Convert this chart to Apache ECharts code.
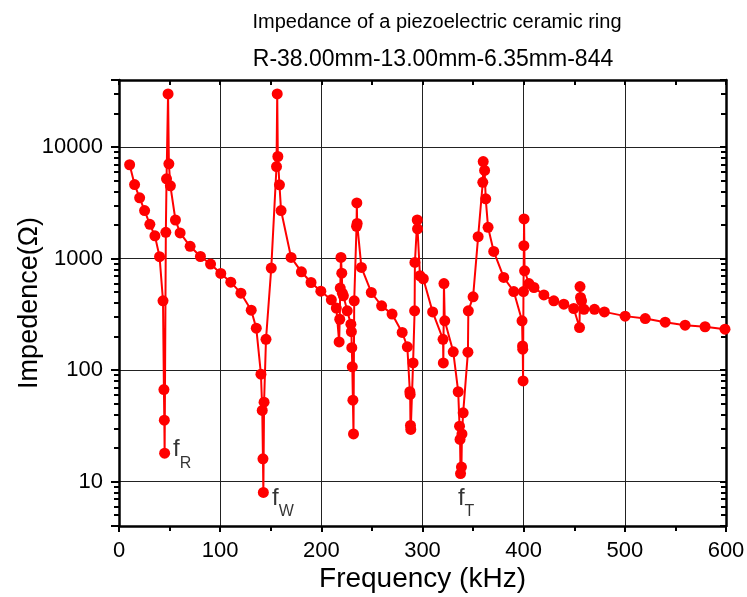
<!DOCTYPE html>
<html><head><meta charset="utf-8">
<script src="https://cdn.jsdelivr.net/npm/echarts@6/dist/echarts.min.js"></script>
<style>html,body{margin:0;padding:0;background:#fff}#c{width:747px;height:597px}</style>
</head><body><div id="c"></div>
<script>
// Measured sweep: frequency (kHz) and impedance magnitude (Ohm)
const freq = [10.5,15.4,20.4,25.3,30.5,35.5,40.1,43.5,44.4,44.8,45.1,46.3,47.0,48.5,49.3,50.8,55.8,60.4,70.3,80.5,
  90.5,100.6,110.5,120.5,130.7,135.7,140.3,141.6,142.3,142.7,143.4,145.3,150.5,155.7,156.4,157.0,158.6,160.2,170.1,180.3,
  189.8,199.5,209.9,214.8,217.6,218.2,218.7,219.4,220.2,220.8,221.8,225.6,229.2,229.7,230.1,230.6,231.2,231.8,232.5,234.8,
  235.1,235.4,239.6,249.4,259.6,269.9,279.9,285.0,287.5,287.8,288.1,288.4,290.7,292.2,292.5,294.8,295.1,297.5,300.8,310.0,
  320.3,320.6,321.2,322.0,330.4,335.3,336.6,337.1,337.6,338.5,339.0,340.2,344.9,345.3,350.0,355.0,359.6,360.0,361.4,362.5,
  364.8,370.4,380.3,390.2,398.4,398.9,399.1,399.4,399.8,400.2,400.4,400.9,405.2,410.2,420.0,429.8,439.7,449.5,455.2,455.7,
  456.2,457.2,459.6,470.0,479.8,500.3,520.2,539.9,559.6,579.3,599.0];
const impedance = [6950,4620,3510,2700,2030,1600,1040,418,67,35.6,18,1720,5200,30000,7090,4500,2220,1700,1290,1045,
  894,736,615,490,345,238,92,43.5,16,8,51.6,189,822,6700,30000,8240,4590,2700,1025,762,
  611,510,427,360,179,286,544,1025,741,490,464,340,258,221,159,107,53.8,26.8,418,1950,
  3160,2070,834,497,377,318,218,162,64,60.5,31.9,29.4,116,340,925,2220,1850,702,660,333,
  189,116,598,277,146,64,31.4,23.9,11.8,13.5,26.8,41.4,145,340,454,1575,4840,7430,6180,3440,
  1910,1160,678,507,277,165,154,80,507,1306,2270,778,598,551,473,418,390,357,241,562,
  448,418,351,351,333,305,290,269,253,245,233];
// Resonance annotations (anchor of each "f" label, in data units)
const annFreq = [53.4, 151.2, 335];
const annImp = [17.4, 6.43, 6.43];
const annSub = ['R', 'W', 'T'];
// Axis settings
const xMin = 0, xMax = 600, xStep = 100;
const yMin = 4, yMax = 40000;

const FONT = 'Liberation Sans, Arial, sans-serif';
const chart = echarts.init(document.getElementById('c'), null, {renderer: 'canvas'});
const isDecade = v => { const l = Math.log10(v); return Math.abs(l - Math.round(l)) < 1e-6; };
const option = {
  animation: false,
  backgroundColor: '#fff',
  title: [
    {text: 'Impedance of a piezoelectric ceramic ring', left: 432, top: 7, textAlign: 'center',
     textStyle: {fontFamily: FONT, fontSize: 20, fontWeight: 'normal', color: '#000'}},
    {text: 'R-38.00mm-13.00mm-6.35mm-844', left: 428, top: 43, textAlign: 'center',
     textStyle: {fontFamily: FONT, fontSize: 23, fontWeight: 'normal', color: '#000'}}
  ],
  grid: {left: 119, right: 21, top: 80, bottom: 71, containLabel: false, outerBoundsMode: 'none'},
  xAxis: [
    {type: 'value', min: xMin, max: xMax, interval: xStep, position: 'bottom',
     name: 'Frequency (kHz)', nameLocation: 'middle', nameGap: 39, nameMoveOverlap: false,
     nameTextStyle: {fontFamily: FONT, fontSize: 28, color: '#000'},
     axisLine: {show: true, onZero: false, lineStyle: {color: '#000', width: 2.5}},
     axisTick: {show: true, inside: false, length: 6, lineStyle: {color: '#000', width: 2}},
     minorTick: {show: true, splitNumber: 2, length: 5, lineStyle: {color: '#000', width: 2}},
     axisLabel: {fontFamily: FONT, fontSize: 22, color: '#000', margin: 14},
     splitLine: {show: true, lineStyle: {color: '#222', width: 1}}},
    {type: 'value', min: xMin, max: xMax, interval: xStep, position: 'top',
     axisLine: {show: true, onZero: false, lineStyle: {color: '#000', width: 2.5}},
     axisTick: {show: true, inside: true, length: 5, lineStyle: {color: '#000', width: 2}},
     minorTick: {show: true, splitNumber: 2, length: 5, lineStyle: {color: '#000', width: 2}},
     axisLabel: {show: false}, splitLine: {show: false}}
  ],
  yAxis: [
    {type: 'log', logBase: 10, min: yMin, max: yMax, position: 'left',
     name: 'Impedence(Ω)', nameLocation: 'middle', nameGap: 76, nameMoveOverlap: false,
     nameTextStyle: {fontFamily: FONT, fontSize: 27, color: '#000'},
     axisLine: {show: true, onZero: false, lineStyle: {color: '#000', width: 2.5}},
     axisTick: {show: true, inside: false, length: 8, lineStyle: {color: '#000', width: 2}},
     minorTick: {show: true, splitNumber: 9, length: 5, lineStyle: {color: '#000', width: 2}},
     axisLabel: {fontFamily: FONT, fontSize: 22, color: '#000', margin: 16,
       showMinLabel: false, showMaxLabel: false,
       formatter: v => isDecade(v) ? String(Math.round(v)) : ''},
     splitLine: {show: true, lineStyle: {color: '#222', width: 1}}},
    {type: 'log', logBase: 10, min: yMin, max: yMax, position: 'right',
     axisLine: {show: true, onZero: false, lineStyle: {color: '#000', width: 2.5}},
     axisTick: {show: true, inside: true, length: 6, lineStyle: {color: '#000', width: 2}},
     minorTick: {show: true, splitNumber: 9, length: 5, lineStyle: {color: '#000', width: 2}},
     axisLabel: {show: false}, splitLine: {show: false}}
  ],
  series: [
    {type: 'line', xAxisIndex: 0, yAxisIndex: 0,
     data: freq.map((f, i) => [f, impedance[i]]),
     symbol: 'circle', symbolSize: 11, showSymbol: true,
     itemStyle: {color: '#ff0000'}, lineStyle: {color: '#ff0000', width: 2}, z: 3},
    {type: 'scatter', xAxisIndex: 0, yAxisIndex: 0, symbolSize: 0, silent: true,
     data: annFreq.map((f, i) => ({value: [f, annImp[i]], sub: annSub[i]})),
     label: {show: true, position: 'right', distance: 0, color: '#000',
       formatter: p => '{f|f}{s|' + p.data.sub + '}',
       rich: {f: {fontFamily: FONT, fontSize: 24, color: '#000', verticalAlign: 'top', lineHeight: 34},
              s: {fontFamily: FONT, fontSize: 16, color: '#000', verticalAlign: 'bottom', lineHeight: 34}}}}
  ]
};
chart.setOption(option);
</script></body></html>
